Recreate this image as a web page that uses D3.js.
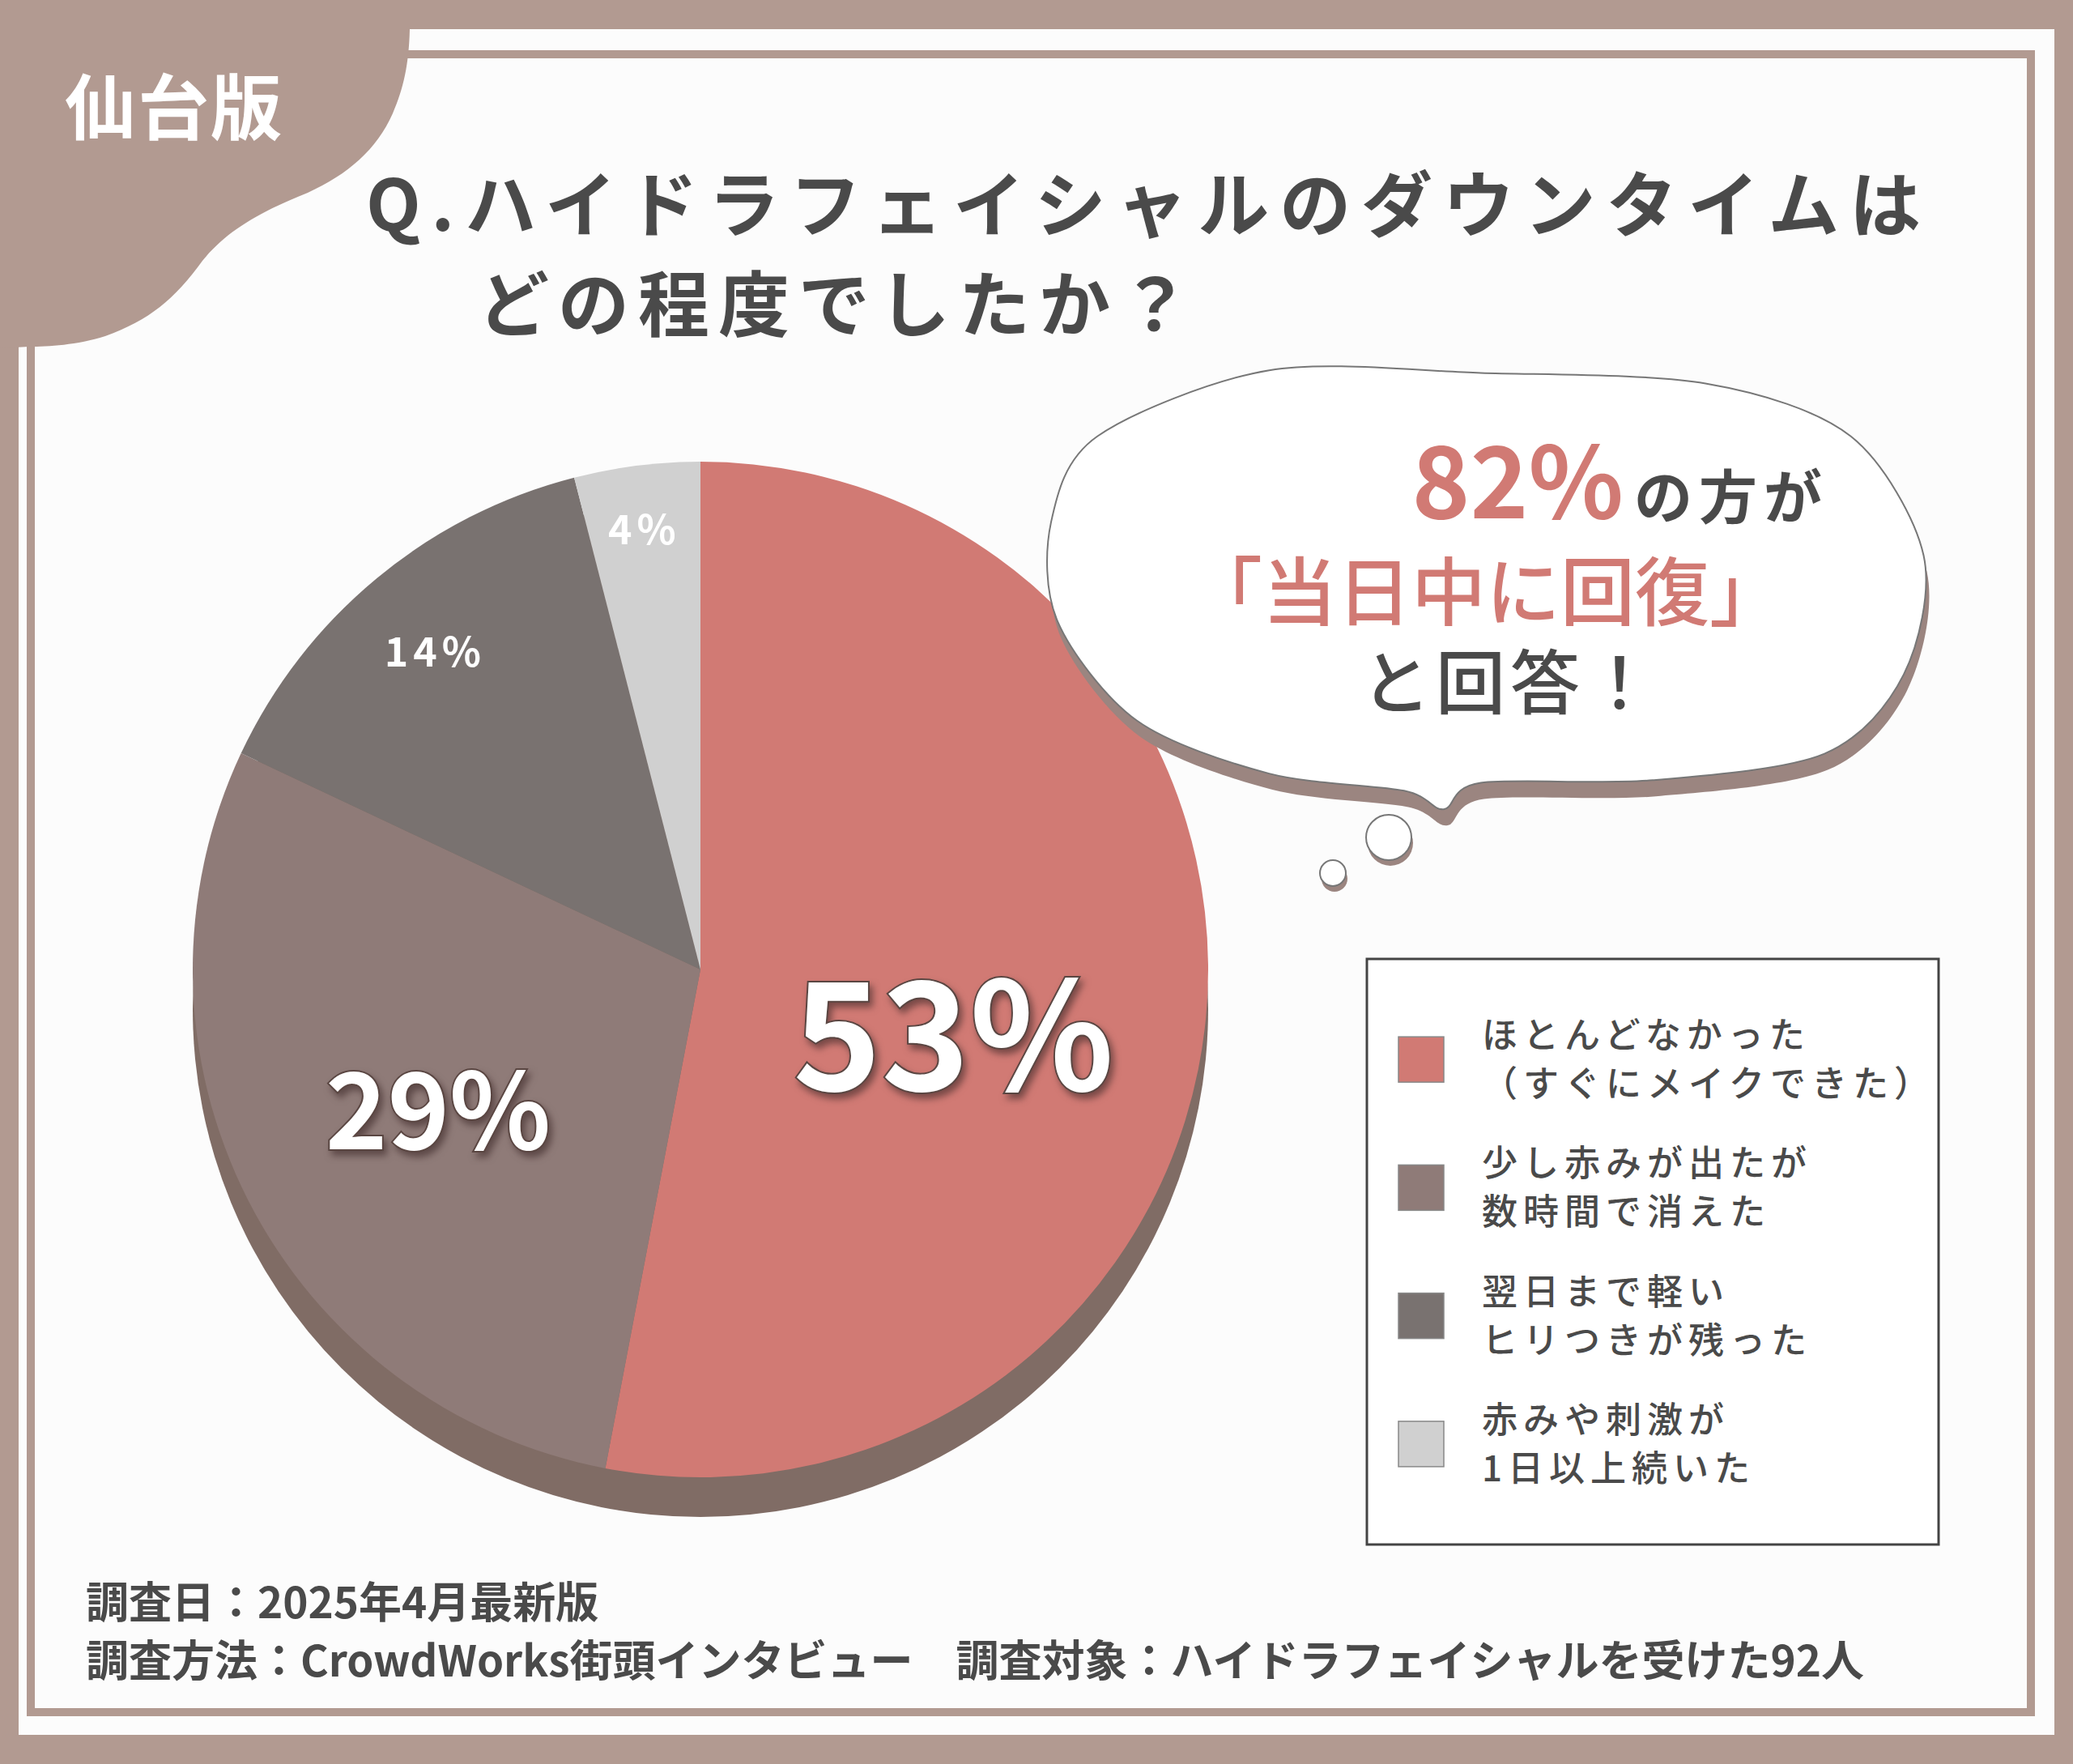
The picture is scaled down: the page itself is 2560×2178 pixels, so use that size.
<!DOCTYPE html>
<html><head><meta charset="utf-8">
<script src="https://cdn.jsdelivr.net/npm/d3@7"></script>
<style>body{margin:0;background:#b29a91}svg{display:block}</style>
</head><body>
<script>
const categories = ["ほとんどなかった|（すぐにメイクできた）","少し赤みが出たが|数時間で消えた","翌日まで軽い|ヒリつきが残った","赤みや刺激が|1日以上続いた"];
const values = [53, 29, 14, 4];
const labels = ["53%","29%","14%","4%"];
const colors = ["#d17a74","#8f7b78","#797270","#d0d0d0"];
const titleLines = ["Q.ハイドラフェイシャルのダウンタイムは","どの程度でしたか？"];
const footer = ["調査日：2025年4月最新版","調査方法：CrowdWorks街頭インタビュー　調査対象：ハイドラフェイシャルを受けた92人"];

const W=2560,H=2178,S=2560/1568;
const font='"Noto Sans CJK JP","Noto Sans",sans-serif';
const svg=d3.select("body").append("svg").attr("width",W).attr("height",H);
svg.append("rect").attr("width",W).attr("height",H).attr("fill","#b29a91");
svg.append("rect").attr("x",23).attr("y",36).attr("width",2514).attr("height",2106).attr("fill","#fcfcfc");
svg.append("rect").attr("x",38).attr("y",67).attr("width",2470).attr("height",2047).attr("fill","none").attr("stroke","#b29a91").attr("stroke-width",10);
// corner blob
svg.append("path").attr("fill","#b29a91").attr("d","M0,0 L506,0 L506,36 C505,80 498,110 485,140 C465,185 430,215 380,238 C320,262 280,285 250,322 C215,370 185,395 130,415 C95,426 60,428 36,428 L0,430 Z");
svg.append("text").text("仙台版").attr("x",80).attr("y",165).attr("font-family",font).attr("font-weight",700).attr("font-size",88).attr("fill","#fff").attr("letter-spacing",2);
// title
svg.append("text").text(titleLines[0]).attr("x",452).attr("y",285).attr("textLength",1920).attr("lengthAdjust","spacing").attr("font-family",font).attr("font-weight",700).attr("font-size",88).attr("fill","#4a4a4a");
svg.append("text").text(titleLines[1]).attr("x",590).attr("y",408).attr("textLength",880).attr("lengthAdjust","spacing").attr("font-family",font).attr("font-weight",700).attr("font-size",88).attr("fill","#4a4a4a");

// pie
const cx=865,cy=1197,R=627;
const g=svg.append("g").attr("transform",`translate(${cx},${cy})`);
g.append("circle").attr("cy",49).attr("r",R).attr("fill","#806c65");
const pie=d3.pie().sort(null)(values);
const arc=d3.arc().innerRadius(0).outerRadius(R);
g.selectAll("path.s").data(pie).join("path").attr("class","s").attr("d",arc).attr("fill",(d,i)=>colors[i]);
const labR=[0.51,0.58,0.82,0.88], labSize=[185,130,50,50];
pie.forEach((d,i)=>{
  const a=(d.startAngle+d.endAngle)/2 + (i==0?0.12:0);
  const r=R*labR[i];
  const x=Math.sin(a)*r, y=-Math.cos(a)*r;
  const t=g.append("text").text(labels[i]).attr("x",x).attr("y",y).attr("text-anchor","middle").attr("dominant-baseline","central")
    .attr("font-family",font).attr("font-weight",700).attr("font-size",labSize[i]).attr("fill","#fff").attr("letter-spacing",i<2?0:6);
  if(i<2) t.attr("stroke","#5a4642").attr("stroke-width",4).attr("paint-order","stroke").style("filter","drop-shadow(4px 6px 4px rgba(60,40,40,0.6))");
});

// speech bubble
const pts=[[830,330],[960,280],[1120,282],[1290,290],[1400,330],[1455,420],[1440,510],[1380,570],[1250,590],[1120,592],[1092,612],[1062,598],[960,585],[860,545],[800,470],[795,395]].map(p=>[p[0]*S,p[1]*S]);
const cl=d3.line().curve(d3.curveCardinalClosed.tension(0.1));
svg.append("path").attr("d",cl(pts)).attr("transform","translate(4,20)").attr("fill","#9b8580");
svg.append("path").attr("d",cl(pts)).attr("fill","#fff").attr("stroke","#777").attr("stroke-width",2);
[[1715,1034,28],[1646,1078,16]].forEach(c=>{
  svg.append("circle").attr("cx",c[0]+2).attr("cy",c[1]+7).attr("r",c[2]).attr("fill","#9b8580");
  svg.append("circle").attr("cx",c[0]).attr("cy",c[1]).attr("r",c[2]).attr("fill","#fff").attr("stroke","#777").attr("stroke-width",2);
});
svg.append("text").text("82%").attr("x",2005).attr("y",640).attr("text-anchor","end").attr("font-family",font).attr("font-weight",700).attr("font-size",122).attr("fill","#d17a74");
svg.append("text").text("の方が").attr("x",2018).attr("y",640).attr("font-family",font).attr("font-weight",700).attr("font-size",72).attr("fill","#4a4a4a").attr("letter-spacing",8);
svg.append("text").text("「当日中に回復」").attr("x",1835).attr("y",765).attr("text-anchor","middle").attr("font-family",font).attr("font-weight",500).attr("font-size",92).attr("fill","#d17a74");
svg.append("text").text("と回答！").attr("x",1865).attr("y",875).attr("text-anchor","middle").attr("font-family",font).attr("font-weight",500).attr("font-size",86).attr("fill","#4a4a4a").attr("letter-spacing",6);

// legend
svg.append("rect").attr("x",1688).attr("y",1184).attr("width",706).attr("height",723).attr("fill","#fff").attr("stroke","#444").attr("stroke-width",3);
const ly=d3.scaleBand().domain(d3.range(categories.length)).range([1229,1862]);
categories.forEach((c,i)=>{
  const yc=ly(i)+ly.bandwidth()/2;
  svg.append("rect").attr("x",1727).attr("y",yc-28).attr("width",56).attr("height",56).attr("fill",colors[i]).attr("stroke","#888").attr("stroke-width",1.5);
  c.split("|").forEach((l,j)=>{
    svg.append("text").text(l).attr("x",1830).attr("y",yc-14+j*60).attr("font-family",font).attr("font-weight",500).attr("font-size",44).attr("fill","#4a4a4a").attr("letter-spacing",7);
  });
});
// footer
footer.forEach((f,i)=>svg.append("text").text(f).attr("x",106).attr("y",1998+i*72).attr("font-family",font).attr("font-weight",700).attr("font-size",53).attr("fill","#4a4a4a"));
</script>
</body></html>
